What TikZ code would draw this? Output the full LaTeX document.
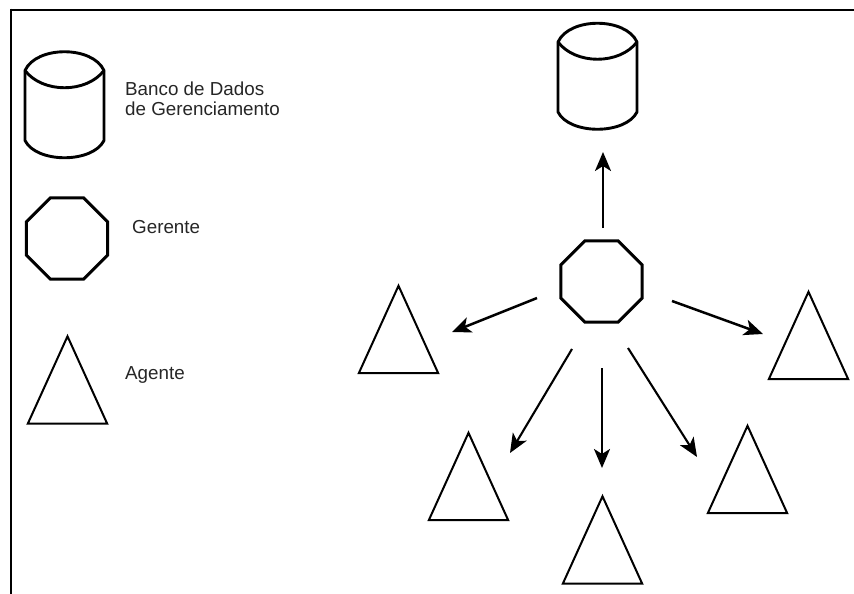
\documentclass[tikz,border=0pt]{standalone}
\usepackage{fontspec}
\setmainfont{Liberation Sans}
\usetikzlibrary{arrows.meta,shapes.geometric}

\begin{document}
\begin{tikzpicture}[x=1pt,y=-1pt,
  frame/.style={line width=2.6pt},
  manager/.style={draw, line width=3pt, regular polygon, regular polygon sides=8,
    minimum size=87.7pt, inner sep=0pt},
  agentbox/.style={inner sep=0pt, minimum width=79pt, minimum height=87pt},
  agentline/.style={line width=2pt, line join=miter},
  dbbox/.style={inner sep=0pt, minimum width=79pt, minimum height=106pt},
  dbline/.style={line width=2.9pt, line join=round},
  flow/.style={line width=2.5pt, -{Stealth[length=19pt,width=16pt,inset=5pt]}},
  legendtext/.style={font=\fontsize{18.8}{20}\selectfont, text=black!85,
    inner sep=0pt, anchor=base west, align=left}
]
% canvas
\useasboundingbox (0,0) rectangle (854,594);
\fill[white] (0,0) rectangle (854,594);

% frame: top and left edges
\draw[frame] (10,10) -- (854,10);
\draw[frame] (11,8.7) -- (11,594);

% ---------- legend ----------
\node[dbbox] (legdb) at (64.5,104.5) {};
\node[manager] (legmgr) at (67,238.5) {};
\node[agentbox] (legag) at (67.5,380) {};

\node[legendtext] (legdbtext) at (125,115) {Banco de Dados\\de Gerenciamento};
\node[legendtext] (legmgrtext) at (132,233) {Gerente};
\node[legendtext] (legagtext) at (125,379) {Agente};

% ---------- network ----------
\node[dbbox] (db) at (597.5,76) {};
\node[manager] (hub) at (601.5,281.5) {};
\node[agentbox] (ag1) at (398.5,329.5) {};
\node[agentbox] (ag2) at (808.5,335.5) {};
\node[agentbox] (ag3) at (468.5,476.5) {};
\node[agentbox] (ag4) at (602.5,540) {};
\node[agentbox] (ag5) at (747.5,469.5) {};

% database cylinders
\foreach \n in {legdb,db}{
  \begin{scope}[shift={(\n.center)}]
    \draw[dbline] (-39.5,-34) .. controls (-28,-59) and (28,-59) .. (39.5,-34)
      -- (39.5,36) .. controls (28,59) and (-28,59) .. (-39.5,36) -- cycle;
    \draw[dbline] (-39.5,-34) .. controls (-22,-11) and (22,-11) .. (39.5,-34);
  \end{scope}
}

% agent triangles
\foreach \n in {legag,ag1,ag2,ag3,ag4,ag5}{
  \draw[agentline] (\n.north) -- (\n.south east) -- (\n.south west) -- cycle;
}

% arrow end points around the manager
\coordinate (updb0) at (603,228);   \coordinate (updb1) at (603,152);
\coordinate (toag1a) at (537,298);  \coordinate (toag1b) at (452,332);
\coordinate (toag2a) at (672,301);  \coordinate (toag2b) at (763,334);
\coordinate (toag3a) at (572,349);  \coordinate (toag3b) at (510,453);
\coordinate (toag4a) at (602,368);  \coordinate (toag4b) at (602,468);
\coordinate (toag5a) at (628,348);  \coordinate (toag5b) at (697,457);

\draw[flow] (updb0) -- (updb1);
\draw[flow] (toag1a) -- (toag1b);
\draw[flow] (toag2a) -- (toag2b);
\draw[flow, line width=2.1pt] (toag3a) -- (toag3b);
\draw[flow] (toag4a) -- (toag4b);
\draw[flow, line width=2.1pt] (toag5a) -- (toag5b);
\end{tikzpicture}
\end{document}
